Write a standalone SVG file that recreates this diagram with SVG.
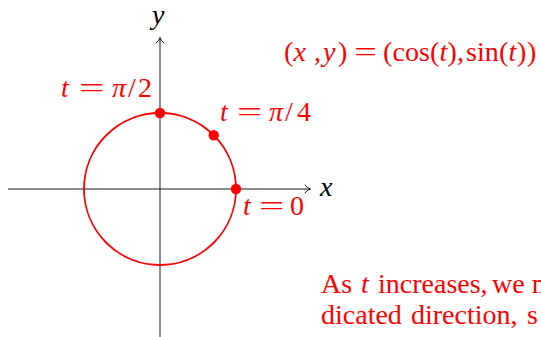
<svg xmlns="http://www.w3.org/2000/svg" width="541" height="337" viewBox="0 0 541 337">
<style>
.ax{stroke:#000;stroke-width:0.9;fill:none}
.tip{stroke:#000;stroke-width:0.9;fill:none;stroke-linecap:round;stroke-linejoin:round}
.curve{stroke:#ff0000;stroke-width:1.8;fill:none}
.dot{fill:#ff0000}
text{font-family:"Liberation Serif","Times New Roman",serif;font-size:28px}
.red{fill:#ff0000}
.blk{fill:#000}
.i{font-style:italic}
</style>
<rect width="541" height="337" fill="#fff"/>
<g id="axes">
<line class="ax" x1="8" y1="189" x2="310" y2="189"/>
<path class="tip" d="M305,185 Q307,188 310.5,189 Q307,190 305,193"/>
<line class="ax" x1="160" y1="337" x2="160" y2="38"/>
<path class="tip" d="M156,43 Q159,41 160,37.5 Q161,41 164,43"/>
<text class="blk i" x="320" y="196">x</text>
<text class="blk i" x="152" y="24">y</text>
</g>
<g id="circle">
<circle class="curve" cx="160" cy="189" r="76"/>
</g>
<g id="points">
<circle class="dot" cx="236" cy="189" r="5.2"/>
<circle class="dot" cx="213.7" cy="135.3" r="5.2"/>
<circle class="dot" cx="160" cy="113" r="5.2"/>
</g>
<g id="label-pi2">
<text class="red" y="97"><tspan class="i" x="61">t</tspan><tspan class="i" x="112">π</tspan><tspan x="128">/</tspan><tspan x="138">2</tspan></text>
<text class="red" transform="translate(79,97) scale(1.6,1)">=</text>
</g>
<g id="label-pi4">
<text class="red" y="121"><tspan class="i" x="220">t</tspan><tspan class="i" x="269">π</tspan><tspan x="285">/</tspan><tspan x="297">4</tspan></text>
<text class="red" transform="translate(237,121) scale(1.6,1)">=</text>
</g>
<g id="label-0">
<text class="red" y="215"><tspan class="i" x="243">t</tspan><tspan x="290">0</tspan></text>
<text class="red" transform="translate(259,215) scale(1.6,1)">=</text>
</g>
<g id="formula">
<text class="red" y="61"><tspan x="284">(</tspan><tspan class="i" x="293.5">x</tspan><tspan x="314">,</tspan><tspan class="i" x="323">y</tspan><tspan x="338">)</tspan><tspan x="383">(</tspan><tspan x="392.5">cos</tspan><tspan x="430">(</tspan><tspan class="i" x="439.5">t</tspan><tspan x="447.5">)</tspan><tspan x="457">,</tspan><tspan x="466">sin</tspan><tspan x="499">(</tspan><tspan class="i" x="508.5">t</tspan><tspan x="517">)</tspan><tspan x="527">)</tspan></text>
<text class="red" transform="translate(354,61) scale(1.45,1)">=</text>
</g>
<g id="note">
<text class="red" y="293"><tspan x="321">As</tspan><tspan class="i" x="361">t</tspan><tspan x="378">increases,</tspan><tspan x="492">we m</tspan></text>
<text class="red" y="324"><tspan x="321">dicated</tspan><tspan x="411">direction,</tspan><tspan x="527">s</tspan></text>
</g>
</svg>
